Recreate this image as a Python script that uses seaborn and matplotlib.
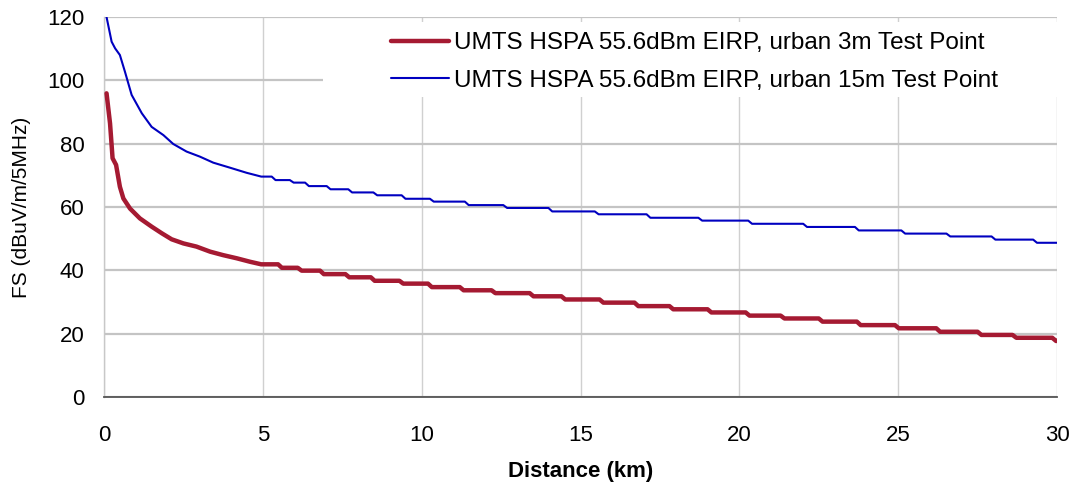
import numpy as np
import pandas as pd
import matplotlib
matplotlib.use("Agg")
import matplotlib.pyplot as plt
from matplotlib.patches import Rectangle
import seaborn as sns

# ---- data (distance in km, FS in dBuV/m/5MHz) ----
# smooth early part of the curves
red_early_km = [0.08, 0.19, 0.27, 0.38, 0.50, 0.61, 0.82, 1.13, 1.50, 1.82, 2.13, 2.50,
                2.91, 3.34, 3.75, 4.18, 4.60, 4.95]
red_early_fs = [95.9, 86.4, 75.4, 73.3, 66.4, 62.7, 59.5, 56.4, 53.8, 51.7, 49.8, 48.5,
                47.5, 45.9, 44.8, 43.8, 42.7, 41.9]
# stepped part: distance where each level ends, and the level
red_step_end = [5.48, 6.10, 6.80, 7.60, 8.40, 9.30, 10.20, 11.20, 12.20, 13.40, 14.40, 15.60,
                16.70, 17.80, 19.00, 20.20, 21.30, 22.50, 23.70, 24.90, 26.20, 27.50, 28.60,
                29.85, 30.00]
red_step_fs = [41.9, 40.8, 39.9, 38.8, 37.8, 36.7, 35.8, 34.7, 33.7, 32.8, 31.8, 30.8,
               29.8, 28.7, 27.7, 26.7, 25.7, 24.8, 23.8, 22.7, 21.7, 20.6, 19.6,
               18.7, 17.7]

blue_early_km = [0.08, 0.24, 0.35, 0.50, 0.66, 0.87, 1.19, 1.50, 1.87, 2.18, 2.60, 3.02,
                 3.44, 3.97, 4.49, 4.95]
blue_early_fs = [120.0, 112.2, 110.1, 108.0, 102.7, 95.4, 89.6, 85.3, 82.7, 79.9, 77.5, 75.9,
                 74.0, 72.4, 70.8, 69.6]
blue_step_end = [5.28, 5.85, 6.33, 7.01, 7.69, 8.48, 9.37, 10.26, 11.36, 12.57, 13.99, 15.45,
                 17.08, 18.71, 20.28, 22.01, 23.64, 25.10, 26.52, 27.94, 29.25, 30.00]
blue_step_fs = [69.6, 68.5, 67.7, 66.6, 65.6, 64.6, 63.7, 62.6, 61.7, 60.6, 59.7, 58.6,
                57.7, 56.6, 55.7, 54.7, 53.7, 52.6, 51.6, 50.7, 49.7, 48.7]

red_label = "UMTS HSPA 55.6dBm EIRP, urban 3m Test Point"
blue_label = "UMTS HSPA 55.6dBm EIRP, urban 15m Test Point"


def build(early_km, early_fs, step_end, step_fs, ramp=0.12):
    xs = list(early_km)
    ys = list(early_fs)
    start = early_km[-1]
    for i, (end, lvl) in enumerate(zip(step_end, step_fs)):
        if i == 0:
            xs.append(end); ys.append(lvl)
        else:
            xs.append(min(start + ramp, end)); ys.append(lvl)
            xs.append(end); ys.append(lvl)
        start = end
    return xs, ys


rx, ry = build(red_early_km, red_early_fs, red_step_end, red_step_fs)
bx, by = build(blue_early_km, blue_early_fs, blue_step_end, blue_step_fs)
df = pd.concat([
    pd.DataFrame({"Distance": rx, "FS": ry, "series": red_label}),
    pd.DataFrame({"Distance": bx, "FS": by, "series": blue_label}),
])

sns.set_theme(style="white")
plt.rcParams["font.family"] = ["Liberation Sans", "DejaVu Sans"]
plt.rcParams["text.color"] = "black"
plt.rcParams["axes.labelcolor"] = "black"

fig = plt.figure(figsize=(10.76, 4.92), dpi=100)
ax = fig.add_axes([104 / 1076, 1 - 397 / 492, (1057 - 104) / 1076, (397 - 17) / 492])

red_c = "#A51A32"
blue_c = "#0000C0"

# gridlines
ax.set_axisbelow(True)
ax.yaxis.grid(True, color="#C4C4C4", linewidth=1.6)
ax.xaxis.grid(True, color="#D0D0D0", linewidth=1.0)

# white legend background
ax.add_patch(Rectangle((0.2298, 0.79), 0.78, 0.197, transform=ax.transAxes,
                       facecolor="white", edgecolor="none", zorder=1.2, clip_on=False))

for lab, col, lw in [(red_label, red_c, 3.2), (blue_label, blue_c, 1.5)]:
    sub = df[df["series"] == lab]
    sns.lineplot(data=sub, x="Distance", y="FS", color=col, linewidth=lw, label=lab,
                 sort=False, estimator=None, ax=ax, zorder=3)

ax.set_xlim(0, 30)
ax.set_ylim(0, 120)
ax.set_xticks([0, 5, 10, 15, 20, 25, 30])
ax.set_yticks([0, 20, 40, 60, 80, 100, 120])
ax.tick_params(axis="x", labelsize=16, pad=20, length=0, colors="black")
ax.tick_params(axis="y", labelsize=16, pad=14, length=0, colors="black")

for s in ["top", "right"]:
    ax.spines[s].set_visible(False)
ax.spines["left"].set_color("#C8C8C8")
ax.spines["left"].set_linewidth(1.0)
ax.spines["bottom"].set_color("#555555")
ax.spines["bottom"].set_linewidth(1.3)

ax.set_xlabel("Distance (km)", fontsize=16, fontweight="bold", labelpad=11, color="black")
ax.set_ylabel("FS (dBuV/m/5MHz)", fontsize=15, labelpad=12, color="black")

leg = ax.legend(loc="upper left", bbox_to_anchor=(0.291, 0.985), frameon=False,
                fontsize=17.5, handlelength=2.4, handletextpad=0.17, labelspacing=0.62,
                borderaxespad=0)
leg.set_zorder(4)
for t in leg.get_texts():
    t.set_color("black")

fig.savefig("out.png", dpi=100)
